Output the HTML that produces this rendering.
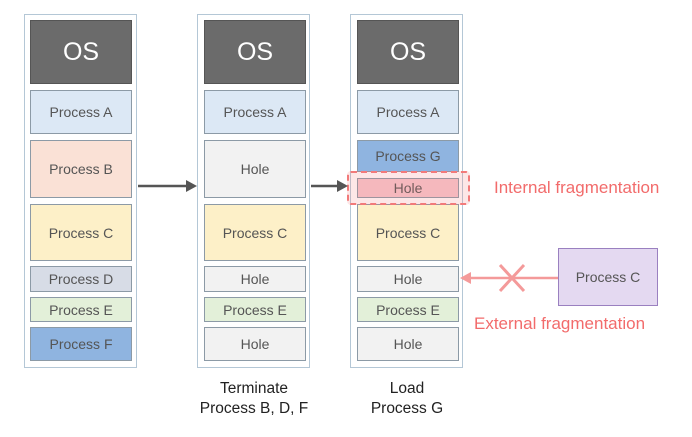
<!DOCTYPE html>
<html><head><style>
body{margin:0;width:692px;height:437px;background:#fff;position:relative;font-family:"Liberation Sans",sans-serif;overflow:hidden}
.col{position:absolute;top:14px;width:113px;height:354px;border:1.5px solid #b4c7d6;box-sizing:border-box;background:#fff}
.b{position:absolute;box-sizing:border-box;border:1.5px solid #8c9aa6;display:flex;align-items:center;justify-content:center;font-size:14px;color:#555}
.os{background:#6b6b6b;color:#fff;font-size:25px;border-color:#555}
.t{position:absolute;text-align:center;font-size:15.5px;color:#222;line-height:20px}
.r{position:absolute;color:#f26b6b;font-size:17px}
</style></head><body>
<div class="col" style="left:24px"></div>
<div class="col" style="left:197px"></div>
<div class="col" style="left:350px"></div>

<div class="b os" style="left:30px;top:20px;width:102px;height:64px">OS</div>
<div class="b" style="left:30px;top:90px;width:102px;height:44px;background:#dce8f5">Process A</div>
<div class="b" style="left:30px;top:140px;width:102px;height:58px;background:#fae1d6">Process B</div>
<div class="b" style="left:30px;top:204px;width:102px;height:57px;background:#fdf0c8">Process C</div>
<div class="b" style="left:30px;top:266px;width:102px;height:26px;background:#d7dce6">Process D</div>
<div class="b" style="left:30px;top:297px;width:102px;height:25px;background:#e3f0d9">Process E</div>
<div class="b" style="left:30px;top:327px;width:102px;height:34px;background:#8fb4e0">Process F</div>

<div class="b os" style="left:204px;top:20px;width:102px;height:64px">OS</div>
<div class="b" style="left:204px;top:90px;width:102px;height:44px;background:#dce8f5">Process A</div>
<div class="b" style="left:204px;top:140px;width:102px;height:58px;background:#f2f2f2">Hole</div>
<div class="b" style="left:204px;top:204px;width:102px;height:57px;background:#fdf0c8">Process C</div>
<div class="b" style="left:204px;top:266px;width:102px;height:26px;background:#f2f2f2">Hole</div>
<div class="b" style="left:204px;top:297px;width:102px;height:25px;background:#e3f0d9">Process E</div>
<div class="b" style="left:204px;top:327px;width:102px;height:34px;background:#f2f2f2">Hole</div>

<div class="b os" style="left:357px;top:20px;width:102px;height:64px">OS</div>
<div class="b" style="left:357px;top:90px;width:102px;height:44px;background:#dce8f5">Process A</div>
<div class="b" style="left:357px;top:140px;width:102px;height:32px;background:#8fb4e0">Process G</div>
<div class="b" style="left:357px;top:178px;width:102px;height:20px;background:#f6c6cc">Hole</div>
<div class="b" style="left:357px;top:204px;width:102px;height:57px;background:#fdf0c8">Process C</div>
<div class="b" style="left:357px;top:266px;width:102px;height:26px;background:#f2f2f2">Hole</div>
<div class="b" style="left:357px;top:297px;width:102px;height:25px;background:#e3f0d9">Process E</div>
<div class="b" style="left:357px;top:327px;width:102px;height:34px;background:#f2f2f2">Hole</div>

<div style="position:absolute;left:347px;top:171px;width:123px;height:34px;box-sizing:border-box;border:2.5px dashed #f27a7a;border-radius:4px;background:rgba(242,120,120,0.18)"></div>

<div class="b" style="left:558px;top:248px;width:100px;height:58px;background:#e4d9f1;border-color:#9a80c0">Process C</div>

<svg width="692" height="437" style="position:absolute;left:0;top:0">
<line x1="138" y1="186" x2="188" y2="186" stroke="#555" stroke-width="2.5"/>
<polygon points="197,186 186,180 186,192" fill="#555"/>
<line x1="311" y1="186" x2="338" y2="186" stroke="#555" stroke-width="2.5"/>
<polygon points="348,186 337,180 337,192" fill="#555"/>
<line x1="558" y1="278" x2="470" y2="278" stroke="#f49a9a" stroke-width="2.5"/>
<polygon points="460,278 471,272 471,284" fill="#f49a9a"/>
<line x1="500" y1="265" x2="524" y2="291" stroke="#f49a9a" stroke-width="3"/>
<line x1="524" y1="265" x2="500" y2="291" stroke="#f49a9a" stroke-width="3"/>
</svg>

<div class="r" style="left:494px;top:178px">Internal fragmentation</div>
<div class="r" style="left:474px;top:314px">External fragmentation</div>
<div class="t" style="left:184px;top:379px;width:140px">Terminate<br>Process B, D, F</div>
<div class="t" style="left:337px;top:379px;width:140px">Load<br>Process G</div>
</body></html>
